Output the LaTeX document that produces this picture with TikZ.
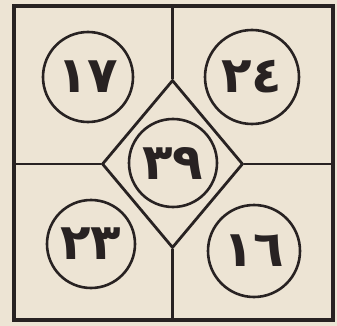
\documentclass[tikz,border=0pt]{standalone}
\usepackage{fontspec}
\newfontfamily\arabicfont[Script=Arabic]{DejaVu Sans}
\usetikzlibrary{shapes.geometric}
\definecolor{paper}{RGB}{237,228,212}
\definecolor{ink}{RGB}{40,34,34}
\tikzset{
  num/.style={circle, draw=ink, line width=2.6pt, inner sep=0pt, text=ink,
    font=\arabicfont\bfseries\fontsize{50}{50}\selectfont},
  wall/.style={draw=ink, line width=2.8pt}
}

\begin{document}
\begin{tikzpicture}[x=1pt,y=-1pt]
  % paper and size
  \fill[paper] (0,0) rectangle (337,326);
  \useasboundingbox (0,0) rectangle (337,326);

  % outer frame and middle diamond
  \node[wall, rectangle, line width=3.2pt, inner sep=0pt, minimum width=319pt, minimum height=314pt] (frame) at (173.5,163) {};
  \node[wall, diamond, inner sep=0pt, minimum width=141pt, minimum height=168pt] (dia) at (172.5,164) {};

  % dividing lines
  \draw[wall] (dia.north) -- (dia.north |- frame.north);
  \draw[wall] (dia.south) -- (dia.south |- frame.south);
  \draw[wall] (dia.west) -- (dia.west -| frame.west);
  \draw[wall] (dia.east) -- (dia.east -| frame.east);

  % numbers
  \node[num, minimum size=88pt] (mid) at (173,163) {٣٩};
  \node[num, minimum size=90pt] (tl) at (88,77) {١٧};
  \node[num, minimum size=94pt] (tr) at (252,77) {٢٤};
  \node[num, minimum size=88pt] (bl) at (91,244) {٢٣};
  \node[num, minimum size=92pt] (br) at (254,251) {١٦};
\end{tikzpicture}
\end{document}
